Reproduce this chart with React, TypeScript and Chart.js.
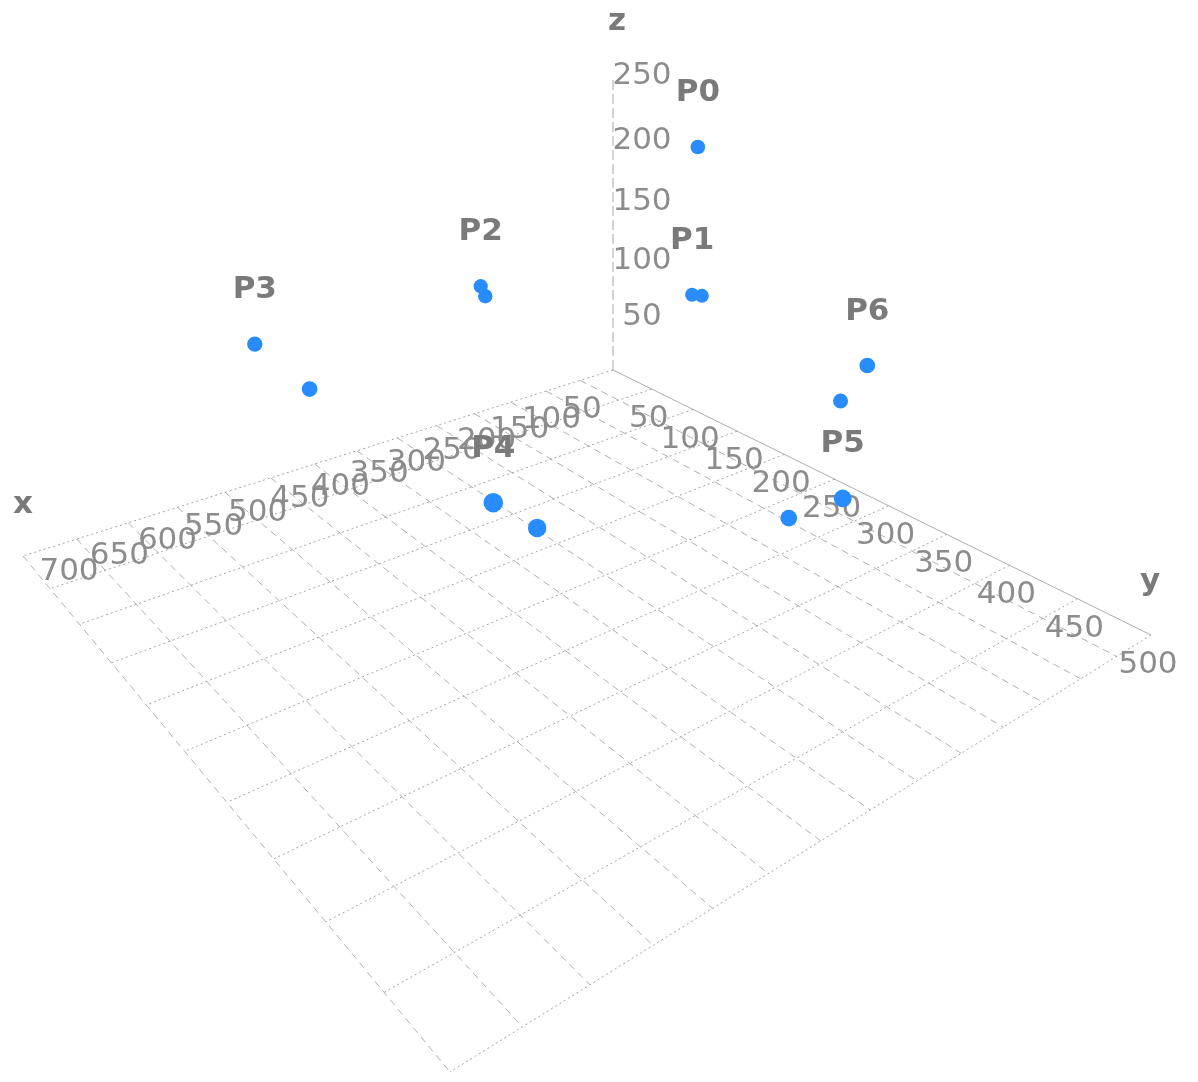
import React, { useEffect, useRef } from 'react';
import { Chart, registerables } from 'chart.js';

Chart.register(...registerables);

const CANVAS_W = 1198;
const CANVAS_H = 1082;

// ---------------- data ----------------
const pointLabels = ['P0', 'P1', 'P2', 'P3', 'P4', 'P5', 'P6'];
const labeledX = [31, 35, 220, 461, 462, 192, 34];
const labeledY = [119, 121, 40, 25, 299, 371, 288];
const labeledZ = [223, 112, 125, 118, 118, 86, 112];

const pairedX = [29, 233, 446, 415, 185, 26];
const pairedY = [127, 59, 76, 291, 327, 264];
const pairedZ = [112, 125, 100, 86, 50, 75];

const xTickValues = [50, 100, 150, 200, 250, 300, 350, 400, 450, 500, 550, 600, 650, 700];
const yTickValues = [50, 100, 150, 200, 250, 300, 350, 400, 450, 500];
const zTickValues = [50, 100, 150, 200, 250];
const xGridValues = [0, 50, 100, 150, 200, 250, 300, 350, 400, 450, 500, 550, 600, 650, 700];
const yGridValues = [0, 50, 100, 150, 200, 250, 300, 350, 400, 450, 500];
const X_MAX = 700;
const Y_MAX = 500;
const Z_MAX = 250;

// ---------------- camera / layout ----------------
const FLOOR_ORIGIN = [613, 370];
const FLOOR_X_END = [23, 556];
const FLOOR_FAR = [450, 1072];
const FLOOR_Y_END = [1151, 635];
const Z_TOP_Y = 76;
const Z_PERSPECTIVE = -0.11;
const POINT_SIZE = 6;
const POINT_COLOR = 'rgb(40,140,255)';
const TICK_FONT = '31px "DejaVu Sans"';
const NAME_FONT = 'bold 31px "DejaVu Sans"';

function squareToQuad(p0: number[], p1: number[], p2: number[], p3: number[]) {
  const sx = p0[0] - p1[0] + p2[0] - p3[0];
  const sy = p0[1] - p1[1] + p2[1] - p3[1];
  const dx1 = p1[0] - p2[0];
  const dx2 = p3[0] - p2[0];
  const dy1 = p1[1] - p2[1];
  const dy2 = p3[1] - p2[1];
  const det = dx1 * dy2 - dx2 * dy1;
  const g = (sx * dy2 - dx2 * sy) / det;
  const h = (dx1 * sy - sx * dy1) / det;
  return {
    a: p1[0] - p0[0] + g * p1[0],
    b: p3[0] - p0[0] + h * p3[0],
    c: p0[0],
    d: p1[1] - p0[1] + g * p1[1],
    e: p3[1] - p0[1] + h * p3[1],
    f: p0[1],
    g,
    h,
  };
}

const H = squareToQuad(FLOOR_ORIGIN, FLOOR_X_END, FLOOR_FAR, FLOOR_Y_END);
const ZW = Z_PERSPECTIVE;
const ZX = H.c * ZW;
const ZY = Z_TOP_Y * (1 + ZW) - H.f;

function project(x: number, y: number, z: number) {
  const u = x / X_MAX;
  const v = y / Y_MAX;
  const t = z / Z_MAX;
  const w = H.g * u + H.h * v + ZW * t + 1;
  return {
    x: (H.a * u + H.b * v + ZX * t + H.c) / w,
    y: (H.d * u + H.e * v + ZY * t + H.f) / w,
    w,
  };
}

function lineDataset(p: { x: number; y: number }, q: { x: number; y: number }, color: string, dash: number[]) {
  return {
    data: [{ x: p.x, y: p.y }, { x: q.x, y: q.y }],
    showLine: true,
    borderColor: color,
    borderWidth: 1,
    borderDash: dash,
    pointRadius: 0,
    pointHoverRadius: 0,
    clip: false as any,
    order: 0,
  };
}

export default function App() {
  const canvasRef = useRef<HTMLCanvasElement | null>(null);

  useEffect(() => {
    const canvas = canvasRef.current;
    if (!canvas) return;

    const datasets: any[] = [];
    // floor grid: lines of constant x (running along y)
    xGridValues.forEach((xv) => {
      datasets.push(
        lineDataset(
          project(xv, 0, 0),
          project(xv, Y_MAX, 0),
          xv === 0 ? 'rgba(165,165,165,0.9)' : 'rgba(150,150,150,0.75)',
          xv === 0 ? [] : [7, 5],
        ),
      );
    });
    // floor grid: lines of constant y (running along x)
    yGridValues.forEach((yv) => {
      datasets.push(lineDataset(project(0, yv, 0), project(X_MAX, yv, 0), 'rgba(140,140,140,0.8)', [2, 3]));
    });
    // z axis
    datasets.push(lineDataset(project(0, 0, 0), project(0, 0, Z_MAX), 'rgba(160,160,160,0.9)', [10, 4]));
    const gridCount = datasets.length;
    datasets.forEach((ds, i) => {
      ds.order = 100 + i;
    });

    const labeledPts = labeledX.map((xv, i) => project(xv, labeledY[i], labeledZ[i]));
    const pairedPts = pairedX.map((xv, i) => project(xv, pairedY[i], pairedZ[i]));

    datasets.push({
      data: pairedPts.map((p) => ({ x: p.x, y: p.y })),
      pointRadius: pairedPts.map((p) => POINT_SIZE / p.w),
      pointBackgroundColor: POINT_COLOR,
      pointBorderWidth: 0,
      showLine: false,
      clip: false,
      order: 1,
    });
    datasets.push({
      data: labeledPts.map((p) => ({ x: p.x, y: p.y })),
      pointRadius: labeledPts.map((p) => POINT_SIZE / p.w),
      pointBackgroundColor: POINT_COLOR,
      pointBorderWidth: 0,
      showLine: false,
      clip: false,
      order: 0,
    });

    const textPlugin = {
      id: 'axisText3d',
      afterDatasetDraw(chart: any, args: any) {
        const ctx = chart.ctx as CanvasRenderingContext2D;
        const sx = chart.scales.x;
        const sy = chart.scales.y;
        const px = (v: number) => sx.getPixelForValue(v);
        const py = (v: number) => sy.getPixelForValue(v);
        if (args.index === 0) {
          // tick labels, drawn right after the grid
          ctx.save();
          ctx.textAlign = 'center';
          ctx.textBaseline = 'middle';
          ctx.font = TICK_FONT;
          ctx.fillStyle = '#8c8c8c';
          xTickValues.forEach((xv) => {
            const p = project(xv, 0, 0);
            const s = (xv - xTickValues[0]) / (X_MAX - xTickValues[0]);
            ctx.fillText(String(xv), px(p.x + 2 + 44 * s), py(p.y + 30 - 14 * s));
          });
          yTickValues.forEach((yv) => {
            const p = project(0, yv, 0);
            ctx.fillText(String(yv), px(p.x - 3), py(p.y + 30));
          });
          zTickValues.forEach((zv) => {
            const p = project(0, 0, zv);
            ctx.fillText(String(zv), px(p.x + 29), py(p.y));
          });
          ctx.restore();
        }
        if (args.index === gridCount + 1) {
          ctx.save();
          ctx.textAlign = 'center';
          ctx.textBaseline = 'middle';
          ctx.font = NAME_FONT;
          ctx.fillStyle = '#7a7a7a';
          const xe = project(X_MAX, 0, 0);
          ctx.fillText('x', px(xe.x), py(xe.y - 51));
          const ye = project(0, Y_MAX, 0);
          ctx.fillText('y', px(ye.x - 1), py(ye.y - 53));
          const ze = project(0, 0, Z_MAX);
          ctx.fillText('z', px(ze.x + 4), py(ze.y - 54));
          labeledPts.forEach((p, i) => {
            ctx.fillText(pointLabels[i], px(p.x), py(p.y - 54));
          });
          ctx.restore();
        }
      },
    };

    const chart = new Chart(canvas, {
      type: 'scatter',
      data: { datasets },
      options: {
        responsive: false,
        animation: false,
        devicePixelRatio: 1,
        events: [],
        layout: { padding: 0, autoPadding: false },
        plugins: {
          legend: { display: false },
          tooltip: { enabled: false },
        },
        scales: {
          x: { type: 'linear', display: false, min: 0, max: CANVAS_W },
          y: { type: 'linear', display: false, min: 0, max: CANVAS_H, reverse: true },
        },
      },
      plugins: [textPlugin as any],
    });

    return () => {
      chart.destroy();
    };
  }, []);

  return (
    <div style={{ position: 'fixed', left: 0, top: 0, width: CANVAS_W, height: CANVAS_H, background: '#fff' }}>
      <canvas ref={canvasRef} width={CANVAS_W} height={CANVAS_H} style={{ width: CANVAS_W, height: CANVAS_H, display: 'block' }} />
    </div>
  );
}
